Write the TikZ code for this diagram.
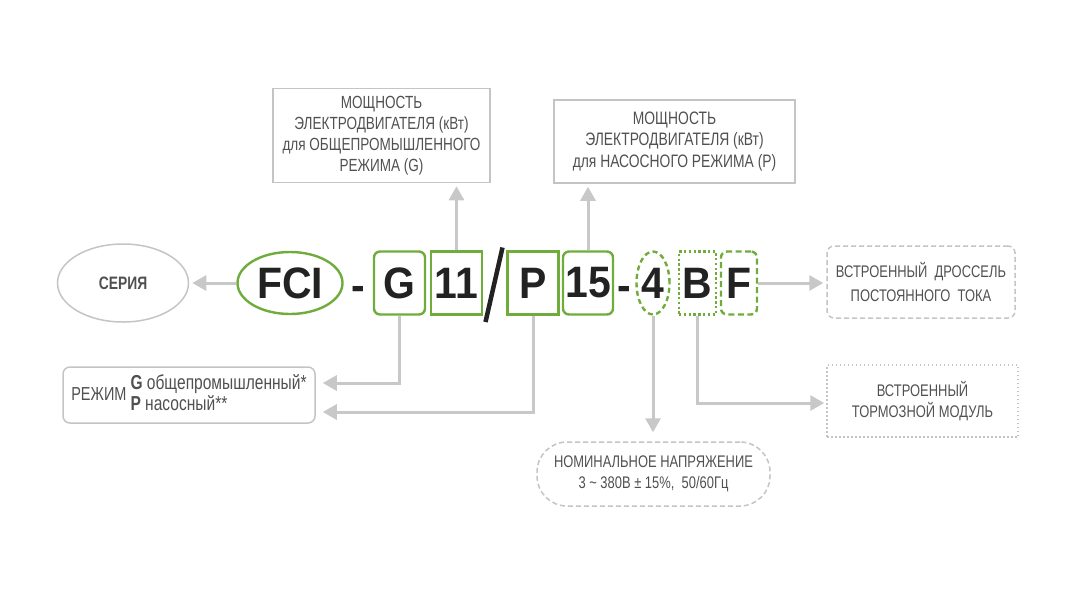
\documentclass[tikz,border=0pt]{standalone}
\usepackage{fontspec}
\setmainfont{Liberation Sans}
\newfontfamily\narrowf[FakeStretch=0.77]{Liberation Sans}
\newfontfamily\bigfont[FakeStretch=0.93]{Liberation Sans}
\usetikzlibrary{shapes.geometric,arrows.meta}
\definecolor{lgreen}{RGB}{112,172,60}
\definecolor{agray}{RGB}{200,200,200}
\definecolor{bgray}{RGB}{196,196,196}
\definecolor{tgray}{RGB}{80,80,80}
\definecolor{tdark}{RGB}{34,34,34}
\tikzset{
  big/.style={font=\bigfont\bfseries\fontsize{44}{44}\selectfont, text=tdark},
  gbox/.style={big, draw=lgreen, line width=2.4pt, minimum height=63pt, inner sep=0pt},
  arr/.style={draw=agray, line width=3pt, -{Triangle[length=14pt,width=15pt]}},
  lbl/.style={draw=bgray, line width=1.5pt, align=center, text=tgray, inner sep=0pt,
    font=\narrowf\fontsize{18}{21.5}\selectfont},
  smalllbl/.style={lbl, font=\narrowf\fontsize{16.8}{21}\selectfont},
}
\begin{document}
\begin{tikzpicture}[x=1pt,y=-1pt]
\useasboundingbox (0,0) rectangle (1070,590);
% main code
\node[big, draw=lgreen, line width=2.4pt, ellipse, minimum width=105pt, minimum height=62pt, inner sep=0pt] (fci) at (290,283) {FCI};
\node[big, anchor=base] (d1) at (358,300) {-};
\node[gbox, rounded corners=6pt, minimum width=51pt] (gG) at (399.5,283) {G};
\node[gbox, minimum width=51pt] (g11) at (456.5,283) {11};
\draw[tdark, line width=4.5pt] (502.5,247.5) -- (485.5,322);
\node[gbox, minimum width=51pt] (gP) at (533,283) {P};
\node[gbox, rounded corners=6pt, minimum width=50pt] (g15) at (588,283) {15};
\node[big, anchor=base] (d2) at (624,300) {-};
\node[gbox, ellipse, dashed, dash pattern=on 5pt off 3.5pt, minimum width=33pt] (g4) at (653,283) {4};
\node[gbox, dotted, dash pattern=on 2.4pt off 2.4pt, minimum width=37pt] (gB) at (697.5,283) {B};
\node[gbox, dashed, dash pattern=on 6pt off 3.5pt, rounded corners=6pt, minimum width=36pt] (gF) at (739,283) {F};
% labels
\node[lbl, ellipse, minimum width=131pt, minimum height=78pt,
  font=\narrowf\bfseries\fontsize{18}{20}\selectfont] (series) at (123,283) {СЕРИЯ};
\node[lbl, minimum width=217pt, minimum height=94pt, font=\narrowf\fontsize{17.6}{21.2}\selectfont] (tl) at (381.5,135.5)
  {МОЩНОСТЬ\\ЭЛЕКТРОДВИГАТЕЛЯ (кВт)\\для ОБЩЕПРОМЫШЛЕННОГО\\РЕЖИМА (G)};
\node[lbl, minimum width=241pt, minimum height=83pt] (tr) at (674.5,141.5)
  {МОЩНОСТЬ\\ЭЛЕКТРОДВИГАТЕЛЯ (кВт)\\для НАСОСНОГО РЕЖИМА (Р)};
\node[lbl, rounded corners=7pt, minimum width=252pt, minimum height=56pt] (regime) at (189,395)
  {\fontsize{18.8}{22}\selectfont РЕЖИМ \fontsize{20.2}{20}\selectfont\begin{tabular}{@{}l@{}}\textbf{G} общепромышленный*\\\textbf{P} насосный**\end{tabular}};
\node[smalllbl, dashed, dash pattern=on 5pt off 3pt, rounded corners=7pt, minimum width=188pt, minimum height=72pt] (dc) at (921,282)
  {ВСТРОЕННЫЙ\ \ ДРОССЕЛЬ\\[3pt]ПОСТОЯННОГО\ \ ТОКА};
\node[smalllbl, dotted, dash pattern=on 1.5pt off 2.5pt, minimum width=191pt, minimum height=72pt] (brake) at (922.5,401)
  {ВСТРОЕННЫЙ\\ТОРМОЗНОЙ МОДУЛЬ};
\node[smalllbl, dashed, dash pattern=on 5pt off 3pt, rounded corners=30pt, minimum width=233pt, minimum height=64pt] (nom) at (653.5,474)
  {НОМИНАЛЬНОЕ НАПРЯЖЕНИЕ\\3 \textasciitilde{} 380В ± 15\%,\ \ 50/60Гц};
% connectors
\draw[arr, shorten >=3pt] (fci.west) -- (series.east);
\draw[arr, shorten >=3pt] (g11.north) -- (g11.north |- tl.south);
\draw[arr, shorten >=3pt] (g15.north) -- (g15.north |- tr.south);
\draw[arr, shorten >=7pt] (gG.south) |- (regime.east |- 0,383);
\draw[arr, shorten >=7pt] (gP.south) |- (regime.east |- 0,412);
\draw[arr, shorten >=9pt] (g4.south) -- (g4.south |- nom.north);
\draw[arr, shorten >=2pt] (gB.south) |- (brake.west |- 0,403);
\draw[arr, shorten >=3pt] (gF.east) -- (gF.east -| dc.west);
\end{tikzpicture}
\end{document}
